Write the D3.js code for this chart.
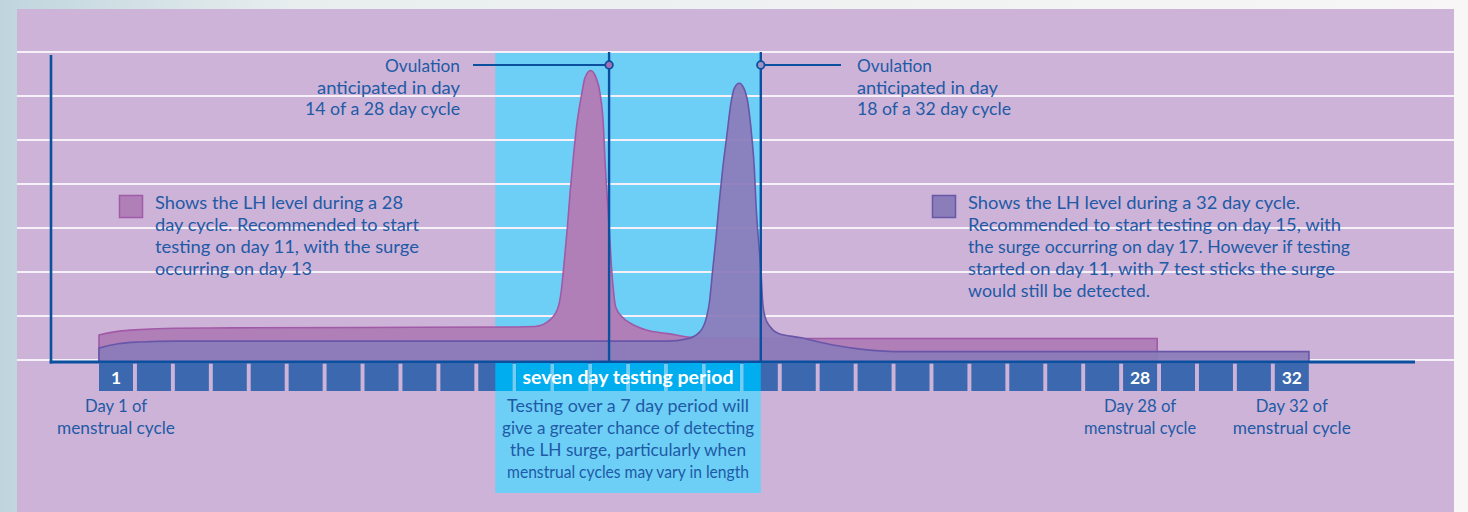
<!DOCTYPE html>
<html><head><meta charset="utf-8">
<script src="https://cdn.jsdelivr.net/npm/d3@7"></script>
<style>html,body{margin:0;padding:0;overflow:hidden;background:#fff}</style>
</head><body><svg id="c" width="1468" height="512"></svg>
<script>
// ---------- data ----------
const days = d3.range(1, 33);
const labeledDays = [1, 28, 32];
const gridLevels = [0, 1, 2, 3, 4, 5, 6, 7];
const testingPeriod = [11, 18];          // centre of day 11 -> centre of day 18
const ovulationDays = [14, 18];
// LH level, [day position, level]  (28-day cycle)
const cycle28 = [[1.00,0.57],[1.5,0.65],[2.08,0.69],[3.0,0.72],[4.5,0.73],[8,0.74],[12.0,0.75],[12.5,0.76],
  [12.89,0.91],[13.11,1.21],[13.18,1.52],[13.27,2.27],[13.35,3.03],[13.42,3.80],[13.50,4.55],[13.59,5.30],
  [13.73,6.06],[13.81,6.41],[13.96,6.58],[14.10,6.43],[14.21,6.06],[14.30,5.30],[14.34,4.55],[14.39,3.80],
  [14.45,3.03],[14.50,2.27],[14.57,1.52],[14.62,1.21],[14.79,0.98],[15.0,0.84],[15.43,0.68],[16.0,0.6],
  [16.66,0.51],[17.5,0.49],[28.9,0.49]];
// LH level (32-day cycle)
const cycle32 = [[1.00,0.27],[1.5,0.37],[2.08,0.41],[3.0,0.43],[8,0.43],[15.98,0.43],[16.5,0.48],[16.84,0.64],
  [17.02,0.98],[17.09,1.29],[17.18,2.05],[17.27,2.80],[17.35,3.56],[17.44,4.32],[17.55,5.08],[17.66,5.83],
  [17.75,6.18],[17.88,6.29],[18.0,6.18],[18.11,5.83],[18.21,5.08],[18.28,4.32],[18.32,3.56],[18.38,2.80],
  [18.45,2.05],[18.50,1.29],[18.56,0.98],[18.69,0.76],[18.90,0.61],[19.48,0.51],[20.35,0.34],[21.25,0.23],
  [22.12,0.19],[32.9,0.19]];
const ovulationLabels = [
  ["Ovulation", "anticipated in day", "14 of a 28 day cycle"],
  ["Ovulation", "anticipated in day", "18 of a 32 day cycle"]];
const legend28 = ["Shows the LH level during a 28", "day cycle. Recommended to start",
  "testing on day 11, with the surge", "occurring on day 13"];
const legend32 = ["Shows the LH level during a 32 day cycle.", "Recommended to start testing on day 15, with",
  "the surge occurring on day 17. However if testing", "started on day 11, with 7 test sticks the surge",
  "would still be detected."];
const dayLabels = [["Day 1 of", "menstrual cycle"], ["Day 28 of", "menstrual cycle"], ["Day 32 of", "menstrual cycle"]];
const periodTitle = "seven day testing period";
const periodNote = ["Testing over a 7 day period will", "give a greater chance of detecting",
  "the LH surge, particularly when", "menstrual cycles may vary in length"];

// ---------- style ----------
const FONT = "Lato, 'Open Sans', sans-serif";
const C = {panel:"#cdb3d7", grid:"#f6f0f8", cyan:"#6dcff6", boxDark:"#3b68ae", boxCyan:"#00adee",
  axis:"#0b4f9f", text:"#1e5aa6", pinkFill:"#b07fb8", pinkStroke:"#a15aa7",
  purpFill:"#8b7cba", purpStroke:"#6857a8"};
// rendered line widths (layout)
const Wd = {
  ov0:[75,143,155], ov1:[75,141,154],
  leg28:[248,264,264,157], leg32:[332,373,382,367,182],
  note:[242,252,236,242],
  day:[[62,118],[72,112],[72,118]]
};

const svg = d3.select("#c");
const W = 1468, H = 512;

// background
const defs = svg.append("defs");
const g1 = defs.append("linearGradient").attr("id","bgG").attr("x1","0").attr("x2","1").attr("y1","0").attr("y2","0");
g1.append("stop").attr("offset","0").attr("stop-color","#bfd5de");
g1.append("stop").attr("offset","0.2").attr("stop-color","#e8eeee");
g1.append("stop").attr("offset","1").attr("stop-color","#f8f6f6");
svg.append("rect").attr("width",W).attr("height",H).attr("fill","url(#bgG)");
svg.append("rect").attr("x",17).attr("y",9).attr("width",1437).attr("height",H-9).attr("fill",C.panel);

// scales
const xBand = d3.scaleBand().domain(days).range([99, 1308.8]).paddingInner(0.1036).paddingOuter(0);
const step = xBand.step(), bw = xBand.bandwidth();
const xPos = d3.scaleLinear().domain([1, 33]).range([xBand(1), xBand(1) + 32 * step]);
const xCenter = d => xBand(d) + bw / 2;
const y = d3.scaleLinear().domain([0, 7]).range([360, 52]);
const axisY = y(0) + 2;

// testing period band
const px0 = xCenter(testingPeriod[0]), px1 = xCenter(testingPeriod[1]);
svg.append("rect").attr("x",px0).attr("y",y(7)).attr("width",px1-px0).attr("height",493-y(7)).attr("fill",C.cyan);

// gridlines
svg.append("g").selectAll("line").data(gridLevels).join("line")
  .attr("x1",17).attr("x2",1454).attr("y1",d=>y(d)).attr("y2",d=>y(d))
  .attr("stroke",C.grid).attr("stroke-width",2);

// areas
const area = d3.area().x(d=>xPos(d[0])).y0(axisY).y1(d=>y(d[1])).curve(d3.curveMonotoneX);
svg.append("path").datum(cycle28).attr("d",area).attr("fill",C.pinkFill).attr("stroke",C.pinkStroke).attr("stroke-width",1.6);
svg.append("path").datum(cycle32).attr("d",area).attr("fill",C.purpFill).attr("fill-opacity",0.93).attr("stroke",C.purpStroke).attr("stroke-width",1.6);

// ovulation markers
const markY = 65;
ovulationDays.forEach((d,i)=>{
  const cx = xCenter(d);
  svg.append("line").attr("x1",cx).attr("x2",cx).attr("y1",y(7)).attr("y2",axisY).attr("stroke",C.axis).attr("stroke-width",2.4);
  const lx = i===0 ? 473 : 841;
  svg.append("line").attr("x1",lx).attr("x2",cx).attr("y1",markY).attr("y2",markY).attr("stroke",C.axis).attr("stroke-width",1.8);
  svg.append("circle").attr("cx",cx).attr("cy",markY).attr("r",3.8)
    .attr("fill", i===0 ? "#a86fb4" : "#9d92c2").attr("stroke",C.axis).attr("stroke-width",1.8);
});

// axes
svg.append("line").attr("x1",51).attr("x2",51).attr("y1",55).attr("y2",axisY+1.5).attr("stroke",C.axis).attr("stroke-width",2.6);
svg.append("line").attr("x1",49.7).attr("x2",1415).attr("y1",axisY).attr("y2",axisY).attr("stroke",C.axis).attr("stroke-width",3);

// day boxes
const boxY = 363, boxH = 28;
svg.append("g").selectAll("rect").data(days).join("rect")
  .attr("x",d=>xBand(d)).attr("y",boxY).attr("width",bw).attr("height",boxH).attr("fill",C.boxDark);
defs.append("clipPath").attr("id","perClip").append("rect").attr("x",px0).attr("y",0).attr("width",px1-px0).attr("height",H);
svg.append("g").attr("clip-path","url(#perClip)").selectAll("rect").data(days).join("rect")
  .attr("x",d=>xBand(d)).attr("y",boxY).attr("width",bw).attr("height",boxH).attr("fill",C.boxCyan);

// box labels
svg.append("g").selectAll("text").data(labeledDays).join("text")
  .attr("x",d=>xCenter(d)).attr("y",384).attr("text-anchor","middle")
  .attr("font-family",FONT).attr("font-weight",700).attr("font-size",17.5).attr("fill","#fff").text(d=>d);
svg.append("text").attr("x",(px0+px1)/2).attr("y",384).attr("text-anchor","middle")
  .attr("font-family",FONT).attr("font-weight",700).attr("font-size",18).attr("fill","#fff")
  .attr("textLength",211).attr("lengthAdjust","spacingAndGlyphs").text(periodTitle);

function lines(x, y0, lh, arr, anchor, widths){
  const t = svg.append("text").attr("font-family",FONT).attr("font-size",17.5).attr("fill",C.text).attr("text-anchor",anchor);
  arr.forEach((s,i)=>t.append("tspan").attr("x",x).attr("y",y0+i*lh)
    .attr("textLength",widths[i]).attr("lengthAdjust","spacingAndGlyphs").text(s));
  return t;
}
// period note
lines((px0+px1)/2, 412, 22, periodNote, "middle", Wd.note);
// day labels
labeledDays.forEach((d,i)=>lines(xCenter(d), 412, 21.5, dayLabels[i], "middle", Wd.day[i]));
// ovulation labels
lines(460, 72, 21.5, ovulationLabels[0], "end", Wd.ov0);
lines(857, 72, 21.5, ovulationLabels[1], "start", Wd.ov1);
// legends
svg.append("rect").attr("x",119.5).attr("y",195.5).attr("width",23).attr("height",22).attr("fill",C.pinkFill).attr("stroke",C.pinkStroke).attr("stroke-width",1.5);
lines(155, 209, 22, legend28, "start", Wd.leg28);
svg.append("rect").attr("x",932.5).attr("y",195.5).attr("width",23).attr("height",22).attr("fill",C.purpFill).attr("stroke",C.purpStroke).attr("stroke-width",1.5);
lines(968, 209, 22, legend32, "start", Wd.leg32);
</script></body></html>
